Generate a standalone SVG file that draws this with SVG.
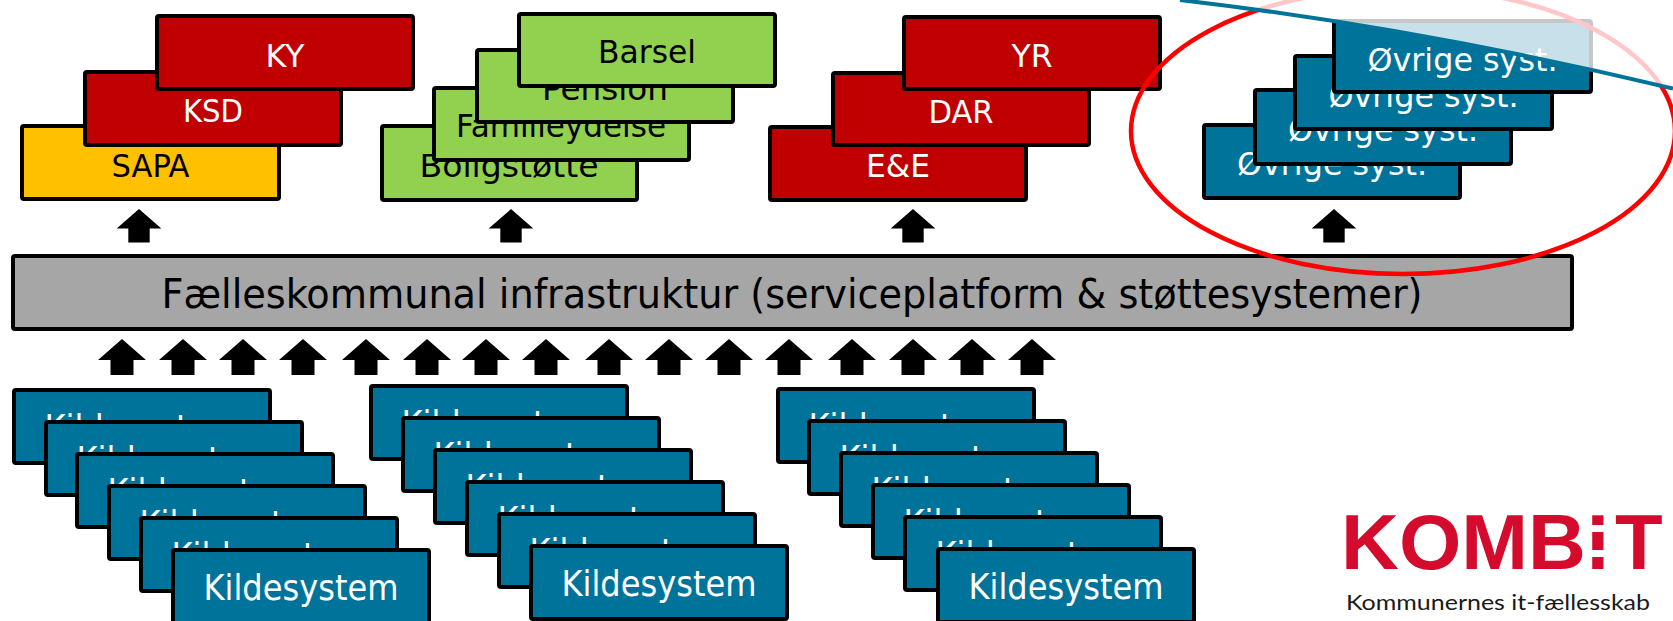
<svg xmlns="http://www.w3.org/2000/svg" xmlns:xlink="http://www.w3.org/1999/xlink" width="1673" height="621" viewBox="0 0 1673 621">
<style>
.bx{stroke:#000;stroke-width:4}
.red{fill:#C00000}.yel{fill:#FFC000}.grn{fill:#92D050}.blu{fill:#00739A}.gry{fill:#A6A6A6}
.t{font-family:"DejaVu Sans Condensed","DejaVu Sans",sans-serif;font-stretch:condensed;font-size:32px;text-anchor:middle}
.w{fill:#fff}.k{fill:#000}
.ks{font-size:36px}
</style>
<defs>
<path id="arr" d="M0,0 L24,21 L11.5,21 L11.5,36 L-11.5,36 L-11.5,21 L-24,21 Z" fill="#000"/>
</defs>
<rect width="1673" height="621" fill="#fff"/>

<g id="stack-red1">
<g id="SAPA"><rect class="bx yel" x="22" y="126" width="257" height="73" rx="2"/><text class="t k" x="150.5" y="177" textLength="78" lengthAdjust="spacingAndGlyphs">SAPA</text></g>
<g id="KSD"><rect class="bx red" x="85" y="72" width="256" height="73" rx="2"/><text class="t w" x="213" y="122" textLength="60" lengthAdjust="spacingAndGlyphs">KSD</text></g>
<g id="KY"><rect class="bx red" x="157" y="16" width="256" height="73" rx="2"/><text class="t w" x="285" y="67" textLength="39" lengthAdjust="spacingAndGlyphs">KY</text></g>
</g>

<g id="stack-green">
<g id="Boligstotte"><rect class="bx grn" x="382" y="126" width="255" height="74" rx="2"/><text class="t k" x="509" y="177" textLength="179" lengthAdjust="spacingAndGlyphs">Boligstøtte</text></g>
<g id="Familieydelse"><rect class="bx grn" x="434" y="88" width="255" height="72" rx="2"/><text class="t k" x="561" y="137" textLength="210" lengthAdjust="spacingAndGlyphs">Familieydelse</text></g>
<g id="Pension"><rect class="bx grn" x="477" y="50" width="256" height="72" rx="2"/><text class="t k" x="605" y="100" textLength="126" lengthAdjust="spacingAndGlyphs">Pension</text></g>
<g id="Barsel"><rect class="bx grn" x="519" y="14" width="256" height="72" rx="2"/><text class="t k" x="647" y="63" textLength="98" lengthAdjust="spacingAndGlyphs">Barsel</text></g>
</g>

<g id="stack-red2">
<g id="EE"><rect class="bx red" x="770" y="127" width="256" height="73" rx="2"/><text class="t w" x="898" y="177" textLength="64" lengthAdjust="spacingAndGlyphs">E&amp;E</text></g>
<g id="DAR"><rect class="bx red" x="833" y="73" width="256" height="72" rx="2"/><text class="t w" x="961" y="123" textLength="65" lengthAdjust="spacingAndGlyphs">DAR</text></g>
<g id="YR"><rect class="bx red" x="904" y="17" width="256" height="72" rx="2"/><text class="t w" x="1032" y="67" textLength="41" lengthAdjust="spacingAndGlyphs">YR</text></g>
</g>

<g id="stack-ovrige">
<g id="ovrige1"><rect class="bx blu" x="1204" y="125" width="256" height="73" rx="2"/><text class="t w" x="1332" y="175" textLength="190" lengthAdjust="spacingAndGlyphs">Øvrige syst.</text></g>
<g id="ovrige2"><rect class="bx blu" x="1255" y="90" width="256" height="74" rx="2"/><text class="t w" x="1383" y="141" textLength="190" lengthAdjust="spacingAndGlyphs">Øvrige syst.</text></g>
<g id="ovrige3"><rect class="bx blu" x="1295" y="56" width="257" height="73" rx="2"/><text class="t w" x="1423.5" y="107" textLength="190" lengthAdjust="spacingAndGlyphs">Øvrige syst.</text></g>
<g id="ovrige4"><rect class="bx blu" x="1334" y="21" width="257" height="71" rx="2"/><text class="t w" x="1462.5" y="71" textLength="190" lengthAdjust="spacingAndGlyphs">Øvrige syst.</text></g>
</g>

<g id="infrastruktur">
<rect class="bx gry" x="13" y="256" width="1559" height="73" rx="2"/>
<text class="t k" x="792" y="308" style="font-size:40px" textLength="1261" lengthAdjust="spacingAndGlyphs">Fælleskommunal infrastruktur (serviceplatform &amp; støttesystemer)</text>
</g>

<g id="kilde1">
<g><rect class="bx blu" x="14" y="390" width="256" height="73" rx="2"/><text class="t w ks" x="142" y="440" textLength="195" lengthAdjust="spacingAndGlyphs">Kildesystem</text></g>
<g><rect class="bx blu" x="46" y="422" width="256" height="73" rx="2"/><text class="t w ks" x="174" y="472" textLength="195" lengthAdjust="spacingAndGlyphs">Kildesystem</text></g>
<g><rect class="bx blu" x="77" y="454" width="256" height="73" rx="2"/><text class="t w ks" x="205" y="504" textLength="195" lengthAdjust="spacingAndGlyphs">Kildesystem</text></g>
<g><rect class="bx blu" x="109" y="486" width="256" height="73" rx="2"/><text class="t w ks" x="237" y="536" textLength="195" lengthAdjust="spacingAndGlyphs">Kildesystem</text></g>
<g><rect class="bx blu" x="141" y="518" width="256" height="73" rx="2"/><text class="t w ks" x="269" y="568" textLength="195" lengthAdjust="spacingAndGlyphs">Kildesystem</text></g>
<g><rect class="bx blu" x="173" y="550" width="256" height="73" rx="2"/><text class="t w ks" x="301" y="600" textLength="195" lengthAdjust="spacingAndGlyphs">Kildesystem</text></g>
</g>

<g id="kilde2">
<g><rect class="bx blu" x="371" y="386" width="256" height="73" rx="2"/><text class="t w ks" x="499" y="436" textLength="195" lengthAdjust="spacingAndGlyphs">Kildesystem</text></g>
<g><rect class="bx blu" x="403" y="418" width="256" height="73" rx="2"/><text class="t w ks" x="531" y="468" textLength="195" lengthAdjust="spacingAndGlyphs">Kildesystem</text></g>
<g><rect class="bx blu" x="435" y="450" width="256" height="73" rx="2"/><text class="t w ks" x="563" y="500" textLength="195" lengthAdjust="spacingAndGlyphs">Kildesystem</text></g>
<g><rect class="bx blu" x="467" y="482" width="256" height="73" rx="2"/><text class="t w ks" x="595" y="532" textLength="195" lengthAdjust="spacingAndGlyphs">Kildesystem</text></g>
<g><rect class="bx blu" x="499" y="514" width="256" height="73" rx="2"/><text class="t w ks" x="627" y="564" textLength="195" lengthAdjust="spacingAndGlyphs">Kildesystem</text></g>
<g><rect class="bx blu" x="531" y="546" width="256" height="73" rx="2"/><text class="t w ks" x="659" y="596" textLength="195" lengthAdjust="spacingAndGlyphs">Kildesystem</text></g>
</g>

<g id="kilde3">
<g><rect class="bx blu" x="778" y="389" width="256" height="73" rx="2"/><text class="t w ks" x="906" y="439" textLength="195" lengthAdjust="spacingAndGlyphs">Kildesystem</text></g>
<g><rect class="bx blu" x="809" y="421" width="256" height="73" rx="2"/><text class="t w ks" x="937" y="471" textLength="195" lengthAdjust="spacingAndGlyphs">Kildesystem</text></g>
<g><rect class="bx blu" x="841" y="453" width="256" height="73" rx="2"/><text class="t w ks" x="969" y="503" textLength="195" lengthAdjust="spacingAndGlyphs">Kildesystem</text></g>
<g><rect class="bx blu" x="873" y="485" width="256" height="73" rx="2"/><text class="t w ks" x="1001" y="535" textLength="195" lengthAdjust="spacingAndGlyphs">Kildesystem</text></g>
<g><rect class="bx blu" x="905" y="517" width="256" height="73" rx="2"/><text class="t w ks" x="1033" y="567" textLength="195" lengthAdjust="spacingAndGlyphs">Kildesystem</text></g>
<g><rect class="bx blu" x="938" y="549" width="256" height="73" rx="2"/><text class="t w ks" x="1066" y="599" textLength="195" lengthAdjust="spacingAndGlyphs">Kildesystem</text></g>
</g>

<g id="connectors">
<use xlink:href="#arr" transform="translate(139,209) scale(0.93)"/>
<use xlink:href="#arr" transform="translate(511,209) scale(0.93)"/>
<use xlink:href="#arr" transform="translate(913,209) scale(0.93)"/>
<use xlink:href="#arr" transform="translate(1334,209) scale(0.93)"/>
<use xlink:href="#arr" x="122" y="339"/>
<use xlink:href="#arr" x="183" y="339"/>
<use xlink:href="#arr" x="243" y="339"/>
<use xlink:href="#arr" x="303" y="339"/>
<use xlink:href="#arr" x="366" y="339"/>
<use xlink:href="#arr" x="427" y="339"/>
<use xlink:href="#arr" x="486" y="339"/>
<use xlink:href="#arr" x="546" y="339"/>
<use xlink:href="#arr" x="609" y="339"/>
<use xlink:href="#arr" x="669" y="339"/>
<use xlink:href="#arr" x="729" y="339"/>
<use xlink:href="#arr" x="789" y="339"/>
<use xlink:href="#arr" x="852" y="339"/>
<use xlink:href="#arr" x="913" y="339"/>
<use xlink:href="#arr" x="972" y="339"/>
<use xlink:href="#arr" x="1032" y="339"/>
</g>

<g id="highlight">
<ellipse cx="1403" cy="131" rx="272" ry="143" fill="none" stroke="#FF0000" stroke-width="4.5"/>
<path d="M1180,0 Q1420,28 1673,88.5 L1673,0 Z" fill="#fff" fill-opacity="0.78"/>
<path d="M1180,0 Q1420,28 1673,88.5" fill="none" stroke="#00739A" stroke-width="4"/>
</g>

<g id="kombit-logo">
<g fill="#D40B2C" style="font-family:'Liberation Sans',Arial,sans-serif;font-weight:bold;font-size:78px">
<text x="1341" y="569" textLength="245" lengthAdjust="spacingAndGlyphs">KOMB</text>
<text x="1587" y="569">I</text>
<text x="1615" y="569">T</text>
</g>
<rect x="1586" y="525" width="24" height="7" fill="#fff"/>
<rect x="1586" y="550" width="24" height="7" fill="#fff"/>
<text x="1346" y="610" style="font-family:Lato,'Liberation Sans',sans-serif;font-size:21px" fill="#1a1a1a" textLength="304" lengthAdjust="spacingAndGlyphs">Kommunernes it-fællesskab</text>
</g>
</svg>
